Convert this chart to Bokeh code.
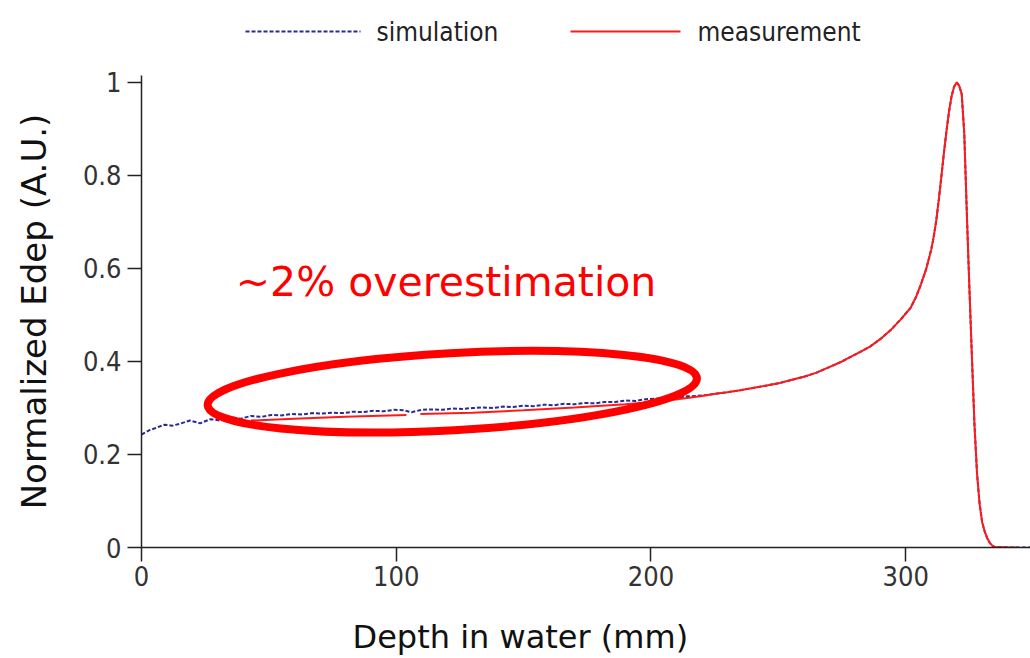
from bokeh.plotting import figure
from bokeh.layouts import column
from bokeh.models import Range1d, FixedTicker
from bokeh.core.properties import value
from bokeh.embed import file_html
from bokeh.resources import INLINE

# Depth-dose curve: Monte Carlo simulation (depth in mm, normalized Edep)
sim_depth = [0, 3, 6, 9, 12, 15, 19, 23, 27, 31, 35, 39, 43, 47, 51, 55, 59, 63, 67, 71,
             75, 79, 83, 87, 91, 95, 99, 103, 106, 110, 114, 118, 122, 126, 130, 134, 138,
             142, 146, 150, 154, 158, 162, 166, 170, 174, 178, 182, 186, 190, 194, 198,
             202, 206, 210, 214, 218, 222, 226, 230, 235, 240, 245, 250, 255, 260, 265,
             270, 275, 278, 282, 286, 290, 294, 298, 302, 304, 306, 308, 310, 311, 312,
             313, 314, 315, 316, 317, 318, 319, 320, 321, 322, 323, 324, 325, 326, 327,
             328, 329, 330, 331, 332, 333, 334, 335, 340, 345, 350]
sim_edep = [0.243, 0.252, 0.258, 0.264, 0.262, 0.266, 0.273, 0.267, 0.276, 0.273, 0.280,
            0.277, 0.283, 0.281, 0.285, 0.284, 0.287, 0.286, 0.289, 0.288, 0.290, 0.289,
            0.292, 0.291, 0.294, 0.293, 0.296, 0.295, 0.291, 0.296, 0.297, 0.296, 0.299,
            0.298, 0.300, 0.301, 0.300, 0.303, 0.302, 0.305, 0.304, 0.307, 0.306, 0.309,
            0.308, 0.311, 0.310, 0.313, 0.313, 0.316, 0.315, 0.319, 0.320, 0.322, 0.322,
            0.325, 0.326, 0.328, 0.331, 0.334, 0.338, 0.343, 0.348, 0.353, 0.360, 0.367,
            0.376, 0.388, 0.400, 0.409, 0.420, 0.432, 0.448, 0.467, 0.490, 0.516, 0.538,
            0.566, 0.598, 0.640, 0.668, 0.703, 0.748, 0.797, 0.848, 0.895, 0.937, 0.970,
            0.991, 1.000, 0.993, 0.975, 0.890, 0.720, 0.560, 0.410, 0.265, 0.160, 0.095,
            0.055, 0.035, 0.020, 0.010, 0.004, 0.001, 0.0, 0.0, 0.0]

# Measured depth-dose (gap in the data near 106 mm)
meas_depth = [43, 60, 80, 104, 106, 109.5, 130, 150, 170, 190, 205, 215, 220, 226, 230,
              235, 240, 245, 250, 255, 260, 265, 270, 275, 278, 282, 286, 290, 294, 298,
              302, 304, 306, 308, 310, 311, 312, 313, 314, 315, 316, 317, 318, 319, 320,
              321, 322, 323, 324, 325, 326, 327, 328, 329, 330, 331, 332, 333, 334, 335,
              340, 344]
meas_edep = [0.273, 0.277, 0.281, 0.285, float("nan"), 0.287, 0.290, 0.295, 0.301, 0.308,
             0.315, 0.322, 0.326, 0.331, 0.334, 0.338, 0.343, 0.348, 0.353, 0.360, 0.367,
             0.376, 0.388, 0.400, 0.409, 0.420, 0.432, 0.448, 0.467, 0.490, 0.516, 0.538,
             0.566, 0.598, 0.640, 0.668, 0.703, 0.748, 0.797, 0.848, 0.895, 0.937, 0.970,
             0.991, 1.000, 0.993, 0.975, 0.890, 0.720, 0.560, 0.410, 0.265, 0.160, 0.095,
             0.055, 0.035, 0.020, 0.010, 0.004, 0.001, 0.0, 0.0]

x_ticks = [0, 100, 200, 300]
y_ticks = [0, 0.2, 0.4, 0.6, 0.8, 1.0]
y_tick_labels = ["0", "0.2", "0.4", "0.6", "0.8", "1"]
series_names = ["simulation", "measurement"]
x_title = "Depth in water (mm)"
y_title = "Normalized Edep (A.U.)"

SIM_COLOR = "#2b2b8f"
MEAS_COLOR = "#ff1a1a"
TICK_FONT = "'Liberation Sans Narrow', 'DejaVu Sans Condensed', 'Arial Narrow', sans-serif"
LABEL_FONT = "DejaVu Sans"


def strip(height):
    """Blank strip aligned with the plot frame; coordinates are page pixels."""
    s = figure(width=1030, height=height, output_backend="svg", toolbar_location=None,
               x_range=Range1d(141, 1030), y_range=Range1d(0, height),
               min_border_left=141, min_border_right=0, min_border_top=0,
               min_border_bottom=0)
    s.axis.visible = False
    s.grid.visible = False
    s.outline_line_color = None
    return s


# ---- legend strip above the plot ----
leg = strip(65)
leg.line([245, 360], [34, 34], line_color=SIM_COLOR, line_width=2, line_dash="4 2")
leg.line([570, 680], [34, 34], line_color=MEAS_COLOR, line_width=2)
leg.text(x=[376, 697], y=[34, 34], text=series_names, text_font=value(TICK_FONT),
         text_font_size="26px", text_color="#222222", text_baseline="middle",
         text_align="left")

# ---- main plot ----
p = figure(width=1030, height=538, output_backend="svg", toolbar_location=None,
           x_range=Range1d(0, 349), y_range=Range1d(0, 1.015),
           min_border_left=141, min_border_right=0, min_border_top=10,
           min_border_bottom=56)
p.outline_line_color = None
p.grid.visible = False

sim = p.line(sim_depth, sim_edep, line_color=SIM_COLOR, line_width=2, line_dash="4 2")
meas = p.line(meas_depth, meas_edep, line_color=MEAS_COLOR, line_width=2)

# Highlight of the plateau region
p.ellipse(x=[122], y=[0.335], width=[490], height=[77], width_units="screen",
          height_units="screen", angle=0.055, fill_alpha=0, line_color="#ff0000",
          line_width=8)
p.text(x=[37], y=[0.570], text=["~2% overestimation"], text_color="#ff0000",
       text_font=value("DejaVu Sans"), text_font_size="41px",
       text_baseline="alphabetic", text_align="left")

# Axes
for ax in (p.xaxis, p.yaxis):
    ax.axis_line_color = "#222222"
    ax.axis_line_width = 1.5
    ax.major_tick_line_color = "#222222"
    ax.major_tick_line_width = 1.5
    ax.major_tick_in = 0
    ax.major_tick_out = 14
    ax.minor_tick_line_color = None
    ax.major_label_text_font = TICK_FONT
    ax.major_label_text_font_size = "27px"
    ax.major_label_text_color = "#333333"
    ax.axis_label_text_font = LABEL_FONT
    ax.axis_label_text_font_style = "normal"
    ax.axis_label_text_color = "#111111"

p.xaxis.ticker = FixedTicker(ticks=x_ticks)
p.yaxis.ticker = FixedTicker(ticks=y_ticks)
p.yaxis.major_label_overrides = {t: s for t, s in zip(y_ticks, y_tick_labels)}
p.yaxis.axis_label = y_title
p.yaxis.axis_label_text_font_size = "34px"
p.xaxis.major_label_standoff = 4
p.yaxis.major_label_standoff = 6
p.yaxis.axis_label_standoff = 26

# ---- x-axis title strip below the plot ----
xl = strip(55)
xl.text(x=[352], y=[22], text=[x_title], text_font=value(LABEL_FONT),
        text_font_size="32px", text_color="#111111", text_baseline="middle",
        text_align="left")

layout = column(leg, p, xl, spacing=0)
open("out.html", "w").write(file_html(layout, INLINE))
